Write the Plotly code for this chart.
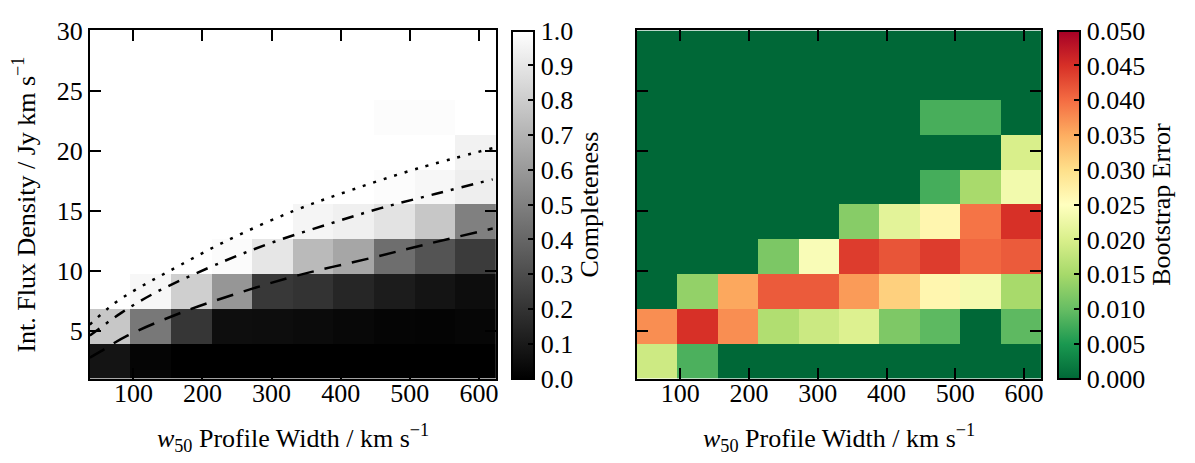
import plotly.graph_objects as go

# ---- data ----
x_edges = [37, 95.8, 154.6, 213.4, 272.2, 331, 389.8, 448.6, 507.4, 566.2, 625]
y_edges = [1, 3.9, 6.8, 9.7, 12.6, 15.5, 18.4, 21.3, 24.2, 27.1, 30]

# rows from bottom (low flux) to top
completeness = [
    [0.08, 0.02, 0.0, 0.0, 0.0, 0.0, 0.0, 0.0, 0.0, 0.0],
    [0.78, 0.47, 0.21, 0.055, 0.05, 0.045, 0.03, 0.02, 0.015, 0.025],
    [1.0, 0.97, 0.81, 0.59, 0.22, 0.2, 0.15, 0.11, 0.08, 0.05],
    [1.0, 1.0, 1.0, 0.985, 0.9, 0.73, 0.65, 0.43, 0.33, 0.23],
    [1.0, 1.0, 1.0, 1.0, 1.0, 0.96, 0.94, 0.89, 0.78, 0.5],
    [1.0, 1.0, 1.0, 1.0, 1.0, 1.0, 1.0, 0.99, 0.97, 0.935],
    [1.0, 1.0, 1.0, 1.0, 1.0, 1.0, 1.0, 1.0, 1.0, 0.95],
    [1.0, 1.0, 1.0, 1.0, 1.0, 1.0, 1.0, 0.99, 0.99, 1.0],
    [1.0, 1.0, 1.0, 1.0, 1.0, 1.0, 1.0, 1.0, 1.0, 1.0],
    [1.0, 1.0, 1.0, 1.0, 1.0, 1.0, 1.0, 1.0, 1.0, 1.0],
]

bootstrap_error = [
    [0.0188, 0.0083, 0, 0, 0, 0, 0, 0, 0, 0],
    [0.0375, 0.045, 0.0375, 0.0161, 0.0186, 0.0205, 0.0119, 0.0094, 0.0, 0.0095],
    [0.0, 0.0135, 0.0355, 0.0415, 0.0415, 0.0365, 0.0316, 0.0265, 0.0235, 0.0152],
    [0, 0, 0, 0.0117, 0.0242, 0.044, 0.042, 0.044, 0.0405, 0.0415],
    [0, 0, 0, 0, 0, 0.0126, 0.0213, 0.0265, 0.0395, 0.045],
    [0, 0, 0, 0, 0, 0, 0, 0.0078, 0.0153, 0.0233],
    [0, 0, 0, 0, 0, 0, 0, 0, 0, 0.02],
    [0, 0, 0, 0, 0, 0, 0, 0.008, 0.008, 0],
    [0, 0, 0, 0, 0, 0, 0, 0, 0, 0],
    [0, 0, 0, 0, 0, 0, 0, 0, 0, 0],
]

dotted_x = [37, 73, 109, 150, 232, 331, 415, 511, 620]
dotted_y = [5.5, 7.3, 8.6, 9.9, 12.4, 14.95, 16.7, 18.5, 20.2]
dashdot_x = [37, 49, 83, 133, 232, 304, 384, 458, 538, 620]
dashdot_y = [4.6, 5.1, 6.5, 8.2, 10.8, 12.4, 13.9, 15.2, 16.4, 17.6]
dashed_x = [37, 52, 92, 174, 256, 338, 444, 528, 620]
dashed_y = [2.75, 3.25, 4.6, 6.6, 8.2, 9.6, 11.05, 12.25, 13.5]

x_ticks = [100, 200, 300, 400, 500, 600]
y_ticks = [5, 10, 15, 20, 25, 30]

# ---- styling ----
W, H = 1195, 463
FONT = "Liberation Serif"
FS = 26
ax_bottom, ax_top = 376, 17
left_x0, left_x1 = 90, 497
right_x0, right_x1 = 638, 1043
cb1_x, cb2_x = 513, 1060

gray_scale = [[0, "#000000"], [1, "#ffffff"]]
rdylgn_r = [
    [0.0, "#006837"], [0.1, "#1a9850"], [0.2, "#66bd63"], [0.3, "#a6d96a"],
    [0.4, "#d9ef8b"], [0.5, "#ffffbf"], [0.6, "#fee08b"], [0.7, "#fdae61"],
    [0.8, "#f46d43"], [0.9, "#d73027"], [1.0, "#a50026"],
]

ydom = [(H - ax_bottom) / H, (H - ax_top) / H]
tfont = dict(family=FONT, size=FS, color="black")
cb_common = dict(
    thickness=22, thicknessmode="pixels",
    len=(ax_bottom - ax_top) / H, lenmode="fraction",
    y=(H - ax_bottom) / H, yanchor="bottom",
    xanchor="left", xpad=0, ypad=0,
    outlinecolor="black", outlinewidth=2,
    ticks="inside", ticklen=7, tickwidth=1.5, tickcolor="black",
    tickfont=tfont, tickprefix="\u2009",
)

fig = go.Figure()

fig.add_trace(go.Heatmap(
    x=x_edges, y=y_edges, z=completeness,
    colorscale=gray_scale, zmin=0, zmax=1,
    xaxis="x", yaxis="y",
    colorbar=dict(
        **cb_common, x=cb1_x / W,
        tickvals=[i / 10 for i in range(11)], tickformat=".1f",
        title=dict(text="Completeness", side="right", font=tfont),
    ),
))

fig.add_trace(go.Heatmap(
    x=x_edges, y=y_edges, z=bootstrap_error,
    colorscale=rdylgn_r, zmin=0, zmax=0.05,
    xaxis="x2", yaxis="y2",
    colorbar=dict(
        **cb_common, x=cb2_x / W,
        tickvals=[i * 0.005 for i in range(11)], tickformat=".3f",
        title=dict(text="Bootstrap Error", side="right", font=tfont),
    ),
))

for xs, ys, dash in [(dotted_x, dotted_y, "3px,8px"),
                     (dashdot_x, dashdot_y, "12px,8px,3px,8px"),
                     (dashed_x, dashed_y, "17px,11px")]:
    fig.add_trace(go.Scatter(
        x=xs, y=ys, mode="lines", line_shape="spline",
        line=dict(color="black", width=2.5, dash=dash),
        xaxis="x", yaxis="y", showlegend=False, hoverinfo="skip",
    ))

axis_common = dict(
    showline=True, linecolor="black", linewidth=2, mirror="ticks",
    ticks="inside", ticklen=11, tickwidth=1.5, tickcolor="black",
    showgrid=False, zeroline=False,
    tickfont=tfont,
)
xtitle = "<i>w</i><sub>50</sub> Profile Width / km s<sup>\u22121</sup>"

fig.update_layout(
    width=W, height=H,
    margin=dict(l=0, r=0, t=0, b=0),
    paper_bgcolor="white", plot_bgcolor="white",
    showlegend=False,
    font=tfont,
    xaxis=dict(**axis_common, domain=[left_x0 / W, left_x1 / W], anchor="y",
               range=[x_edges[0], x_edges[-1]], tickvals=x_ticks,
               ticklabelstandoff=-10,
               title=dict(text=xtitle, standoff=22, font=tfont)),
    yaxis=dict(**axis_common, domain=ydom, anchor="x",
               range=[y_edges[0], y_edges[-1]], tickvals=y_ticks,
               ticklabelstandoff=0,
               title=dict(text="Int. Flux Density / Jy km s<sup>\u22121</sup>",
                          standoff=14, font=tfont)),
    xaxis2=dict(**axis_common, domain=[right_x0 / W, right_x1 / W], anchor="y2",
                range=[x_edges[0], x_edges[-1]], tickvals=x_ticks,
                ticklabelstandoff=-10,
                title=dict(text=xtitle, standoff=22, font=tfont)),
    yaxis2=dict(**axis_common, domain=ydom, anchor="x2",
                range=[y_edges[0], y_edges[-1]], tickvals=y_ticks,
                showticklabels=False),
)

fig.write_html("out.html")
